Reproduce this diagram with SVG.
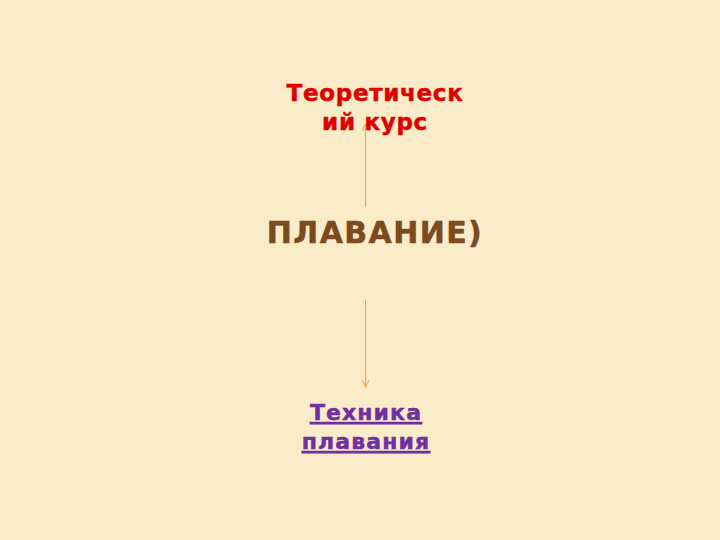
<svg xmlns="http://www.w3.org/2000/svg" width="720" height="540" viewBox="0 0 720 540">
<style>
.t{font-family:"DejaVu Sans","Liberation Sans",sans-serif;font-weight:bold;text-anchor:middle;stroke-width:0.5}
.c{stroke:#F0AA45;stroke-width:1.1;fill:none}
</style>
<defs>
<marker id="ah" viewBox="0 0 10 10" refX="9" refY="5" markerWidth="8" markerHeight="8" orient="auto" markerUnits="userSpaceOnUse">
<path d="M1,1 L9,5 L1,9" fill="none" stroke="#F0AA45" stroke-width="1.3"/>
</marker>
</defs>
<rect width="720" height="540" fill="#FBECC9"/>
<g id="connectors">
<line class="c" x1="365.5" y1="207" x2="365.5" y2="124" marker-end="url(#ah)"/>
<line class="c" x1="365.5" y1="300" x2="365.5" y2="387" marker-end="url(#ah)"/>
</g>
<g id="node-theory">
<text class="t" x="375" y="101" font-size="23" letter-spacing="0.7" fill="#E00000" stroke="#E00000">Теоретическ</text>
<text class="t" x="375" y="130" font-size="23" letter-spacing="0.7" fill="#E00000" stroke="#E00000">ий курс</text>
</g>
<g id="node-center">
<text class="t" x="375" y="243" font-size="30" letter-spacing="1.4" fill="#7B4A1E" stroke="#7B4A1E">ПЛАВАНИЕ)</text>
</g>
<g id="node-technique">
<text class="t" x="366" y="420" font-size="22" letter-spacing="1.1" fill="#7030A0" stroke="#7030A0" text-decoration="underline">Техника</text>
<text class="t" x="366" y="449" font-size="22" letter-spacing="1.1" fill="#7030A0" stroke="#7030A0" text-decoration="underline">плавания</text>
</g>
</svg>
